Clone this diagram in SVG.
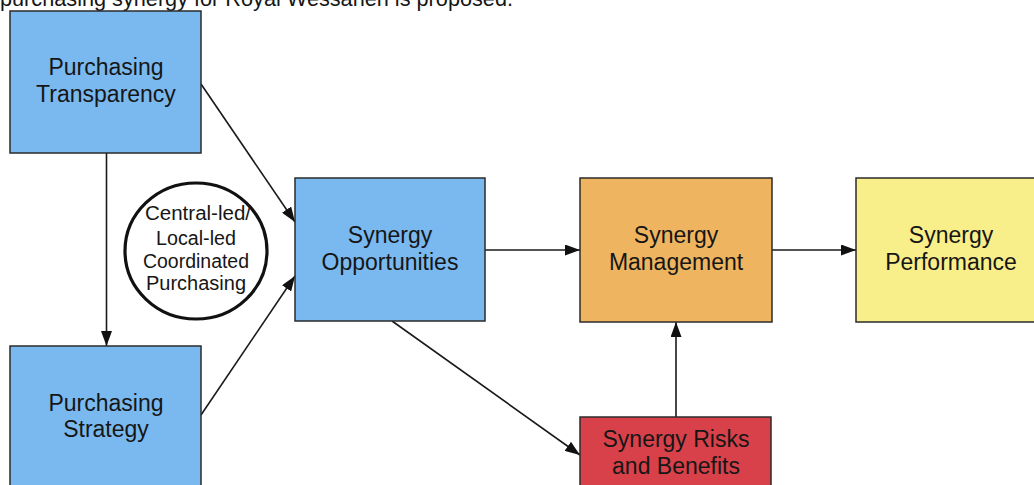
<svg xmlns="http://www.w3.org/2000/svg" width="1034" height="485" viewBox="0 0 1034 485">
  <style>
    .box { stroke: #2b2b2b; stroke-width: 1.5; }
    .blue { fill: #7ab9ef; }
    .orange { fill: #efb45f; }
    .yellow { fill: #f8ee8a; }
    .red { fill: #d8414a; }
    .label { font-family: "Liberation Sans", Arial, sans-serif; font-size: 23px; fill: #161616; text-anchor: middle; }
    .small { font-family: "Liberation Sans", Arial, sans-serif; font-size: 20px; fill: #161616; text-anchor: middle; }
    .edge { stroke: #1a1a1a; stroke-width: 1.6; fill: none; marker-end: url(#arrow); }
  </style>
  <defs>
    <marker id="arrow" viewBox="0 0 15 11" refX="15" refY="5.5" markerWidth="15" markerHeight="11" markerUnits="userSpaceOnUse" orient="auto">
      <path d="M0,0 L15,5.5 L0,11 Z" fill="#111"/>
    </marker>
  </defs>

  <rect width="1034" height="485" fill="#ffffff"/>

  <!-- heading line, partly above the top edge -->
  <text x="0" y="6" font-family="Liberation Sans, Arial, sans-serif" font-size="22" fill="#161616" textLength="513" lengthAdjust="spacingAndGlyphs">purchasing synergy for Royal Wessanen is proposed.</text>

  <g id="connectors">
    <line class="edge" x1="201" y1="84" x2="295" y2="222"/>
    <line class="edge" x1="201" y1="415" x2="295" y2="276"/>
    <line class="edge" x1="106.5" y1="153" x2="106.5" y2="346"/>
    <line class="edge" x1="485" y1="250" x2="580" y2="250"/>
    <line class="edge" x1="772" y1="250" x2="856" y2="250"/>
    <line class="edge" x1="392" y1="321" x2="580" y2="455"/>
    <line class="edge" x1="676" y1="417" x2="676" y2="322"/>
  </g>

  <g id="purchasing-transparency">
    <rect class="box blue" x="10" y="11" width="191" height="142"/>
    <text class="label" x="106" y="75">Purchasing</text>
    <text class="label" x="106" y="102">Transparency</text>
  </g>

  <g id="purchasing-strategy">
    <rect class="box blue" x="10" y="346" width="191" height="143"/>
    <text class="label" x="106" y="411">Purchasing</text>
    <text class="label" x="106" y="437">Strategy</text>
  </g>

  <g id="coordinated-purchasing">
    <ellipse cx="196" cy="251" rx="71" ry="68" fill="#ffffff" stroke="#111" stroke-width="3.2"/>
    <text class="small" x="198" y="220" textLength="106" lengthAdjust="spacingAndGlyphs">Central-led/</text>
    <text class="small" x="196" y="245" textLength="80" lengthAdjust="spacingAndGlyphs">Local-led</text>
    <text class="small" x="196" y="268" textLength="106" lengthAdjust="spacingAndGlyphs">Coordinated</text>
    <text class="small" x="196" y="290" textLength="100" lengthAdjust="spacingAndGlyphs">Purchasing</text>
  </g>

  <g id="synergy-opportunities">
    <rect class="box blue" x="295" y="178" width="190" height="143"/>
    <text class="label" x="390" y="243">Synergy</text>
    <text class="label" x="390" y="270">Opportunities</text>
  </g>

  <g id="synergy-management">
    <rect class="box orange" x="580" y="178" width="192" height="144"/>
    <text class="label" x="676" y="243">Synergy</text>
    <text class="label" x="676" y="270">Management</text>
  </g>

  <g id="synergy-performance">
    <rect class="box yellow" x="856" y="178" width="190" height="144"/>
    <text class="label" x="951" y="243">Synergy</text>
    <text class="label" x="951" y="270">Performance</text>
  </g>

  <g id="synergy-risks-benefits">
    <rect class="box red" x="580" y="417" width="191" height="143"/>
    <text class="label" x="676" y="447">Synergy Risks</text>
    <text class="label" x="676" y="474">and Benefits</text>
  </g>
</svg>
